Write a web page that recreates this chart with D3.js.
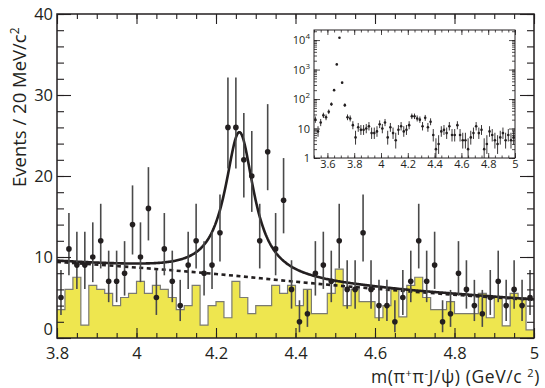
<!DOCTYPE html>
<html><head><meta charset="utf-8">
<script src="https://cdn.jsdelivr.net/npm/d3@7/dist/d3.min.js"></script>
<style>
body{margin:0;background:#fff}
svg{display:block}
text, tspan{font-family:'Open Sans','Noto Sans',sans-serif;fill:#231f20}
</style></head><body>
<svg id="chart" width="545" height="388"></svg>
<script>
// ---------------- data ----------------
const massRange = [3.8, 5.0];          // GeV/c^2
const binWidth = 0.02;                 // 20 MeV bins
const counts = [5,11,9,9,10,12,7,7,8,14,10,16,5,11,7,4,9,12,8,9,
                13,26,26,22,20,12,23,11,17,6,2,3,8,9,7,12,6,6,13,6,
                4,4,2,5,7,12,7,9,2,3,8,6,4,3,5,7,4,6,4,5];
const sideband = [3.5,6,7.5,1.6,6.5,6,5.5,4,5,5.5,7,5.5,6.5,6,5,3.5,4,6.5,1.6,4,
                  4.5,2.5,7,5,3,4,4,6.5,5.5,6.5,4,6,3,3,5.5,8.5,4,6,4.5,4.5,
                  2.5,4,6,2.6,6.5,7.5,5,3.5,3.5,4.5,3,3,3,5.5,2.5,5,1.5,5.5,5,1.0];
// background (dashed) curve read at knots
const bgMass = [3.8, 4.0, 4.2, 4.4, 4.5, 4.7, 5.0];
const bgVal  = [9.4, 8.7, 7.9, 6.95, 6.5, 5.7, 4.7];
// single-resonance fit: mass, width (GeV), peak amplitude above background
const fitMass = 4.259, fitWidth = 0.088, fitAmp = 17.8;
// inset: broader range 3.5-5.0, bins below 3.8 (rest = counts)
const insetRange = [3.5, 5.0];
const insetLow = [20, 8, 16, 28, 24, 37, 67, 200, 1500, 12000, 360, 62, 24, 22, 13];
const xTicks = [3.8, 4.0, 4.2, 4.4, 4.6, 4.8, 5.0];
const yTicks = [0, 10, 20, 30, 40];
const insetXTicks = [3.6, 3.8, 4.0, 4.2, 4.4, 4.6, 4.8, 5.0];
const insetYTicks = [1, 10, 100, 1000, 10000];

// ---------------- helpers ----------------
const INK = '#231f20';
const FONT = "'Open Sans','Noto Sans',sans-serif";
const errUp = n => n + 1 + Math.sqrt(n + 0.75);
const errLo = n => n <= 0 ? 0 : n * Math.pow(1 - 1/(9*n) - 1/(3*Math.sqrt(n)), 3);
const fmt = d => (Math.abs(d - Math.round(d)) < 1e-9) ? String(Math.round(d)) : d.toFixed(1);

const svg = d3.select('#chart');
const L = 57, R = 534, T = 14, B = 338;
const x = d3.scaleLinear().domain(massRange).range([L, R]);
const y = d3.scaleLinear().domain([0, 40]).range([B, T]);

const nb = counts.length;
const binLo = d3.range(nb).map(i => massRange[0] + i*binWidth);
const bins = binLo.map((lo, i) => ({lo, hi: lo + binWidth, c: lo + binWidth/2, n: counts[i], s: sideband[i]}));

// ---- sideband histogram (filled steps)
const stepPts = bins.map(b => [b.lo, b.s]).concat([[massRange[1], sideband[nb-1]]]);
svg.append('path')
  .attr('d', d3.area().x(d => x(d[0])).y0(y(0)).y1(d => y(d[1])).curve(d3.curveStepAfter)(stepPts))
  .attr('fill', '#eee64f');
svg.append('path')
  .attr('d', d3.line().x(d => x(d[0])).y(d => y(d[1])).curve(d3.curveStepAfter)(stepPts))
  .attr('fill', 'none').attr('stroke', '#7a7a72').attr('stroke-width', 1.2);

// ---- curves
const bg = d3.scaleLinear().domain(bgMass).range(bgVal);
const fine = d3.range(0, 481).map(i => massRange[0] + i*(massRange[1]-massRange[0])/480);
const g2 = (fitWidth/2)*(fitWidth/2);
const fitFn = m => bg(m) + fitAmp * g2 / ((m - fitMass)*(m - fitMass) + g2);
svg.append('path')
  .attr('d', d3.line().x(d => x(d[0])).y(d => y(d[1])).curve(d3.curveMonotoneX)(bgMass.map((m,i) => [m, bgVal[i]])))
  .attr('fill', 'none').attr('stroke', INK).attr('stroke-width', 2.6).attr('stroke-dasharray', '4,3.5');
svg.append('path')
  .attr('d', d3.line().x(d => x(d)).y(d => y(fitFn(d)))(fine))
  .attr('fill', 'none').attr('stroke', INK).attr('stroke-width', 2.6);

// ---- data points
const pts = svg.append('g');
pts.selectAll('line').data(bins).join('line')
  .attr('x1', d => x(d.c)).attr('x2', d => x(d.c))
  .attr('y1', d => y(Math.min(40, errUp(d.n)))).attr('y2', d => y(errLo(d.n)))
  .attr('stroke', '#4a4a4a').attr('stroke-width', 1.6);
pts.selectAll('circle').data(bins).join('circle')
  .attr('cx', d => x(d.c)).attr('cy', d => y(d.n)).attr('r', 2.8).attr('fill', INK);

// ---- axes (ROOT style: ticks inside on all four sides)
function axisG(axis, tx, ty) {
  const g = svg.append('g').attr('transform', `translate(${tx},${ty})`).call(axis);
  g.select('.domain').remove();
  g.selectAll('line').attr('stroke', INK).attr('stroke-width', 1.1);
  g.selectAll('text').style('font-family', FONT).style('fill', INK);
  return g;
}
const xMinor = d3.range(0, 25).map(i => massRange[0] + i*0.05);
const yMinor = d3.range(0, 21).map(i => i*2);
axisG(d3.axisBottom(x).tickValues(xMinor).tickSize(-5).tickFormat(''), 0, B);
axisG(d3.axisTop(x).tickValues(xMinor).tickSize(-5).tickFormat(''), 0, T);
axisG(d3.axisTop(x).tickValues(xTicks).tickSize(-10).tickFormat(''), 0, T);
const xb = axisG(d3.axisBottom(x).tickValues(xTicks).tickSize(-10).tickPadding(9).tickFormat(fmt), 0, B);
xb.selectAll('text').attr('font-size', 16.5);
axisG(d3.axisLeft(y).tickValues(yMinor).tickSize(-7).tickFormat(''), L, 0);
axisG(d3.axisRight(y).tickValues(yMinor).tickSize(-7).tickFormat(''), R, 0);
axisG(d3.axisRight(y).tickValues(yTicks).tickSize(-14).tickFormat(''), R, 0);
const yl = axisG(d3.axisLeft(y).tickValues(yTicks).tickSize(-14).tickPadding(4).tickFormat(d3.format('d')), L, 0);
yl.selectAll('text').attr('font-size', 16.5);
yl.selectAll('.tick').filter(d => d === 0).select('text').attr('y', -9);
svg.append('rect').attr('x', L).attr('y', T).attr('width', R-L).attr('height', B-T)
  .attr('fill', 'none').attr('stroke', INK).attr('stroke-width', 1.5);

// titles
const xt = svg.append('text').attr('x', 540).attr('y', 383).attr('text-anchor', 'end')
  .attr('font-size', 17.5).attr('letter-spacing', 0.6);
xt.append('tspan').text('m(π');
xt.append('tspan').attr('dy', -6).attr('font-size', 11).text('+');
xt.append('tspan').attr('dy', 6).text('π');
xt.append('tspan').attr('dy', -6).attr('font-size', 11).text('-');
xt.append('tspan').attr('dy', 6).text('J/ψ) (GeV/c ');
xt.append('tspan').attr('dy', -6).attr('font-size', 11).text('2');
xt.append('tspan').attr('dy', 6).text(')');
const yt = svg.append('text').attr('transform', 'translate(26,187) rotate(-90)').attr('text-anchor', 'start').attr('font-size', 18.5);
yt.append('tspan').text('Events / 20 MeV/c');
yt.append('tspan').attr('dy', -7).attr('font-size', 12).text('2');

// ---------------- inset ----------------
const iL = 314, iR = 515, iT = 30, iB = 158;
const xi = d3.scaleLinear().domain(insetRange).range([iL, iR]);
const yi = d3.scaleLog().domain([1, 22000]).range([iB, iT]);
svg.append('rect').attr('x', iL).attr('y', iT).attr('width', iR-iL).attr('height', iB-iT).attr('fill', '#fff');
const insetCounts = insetLow.concat(counts);
const ibins = insetCounts.map((n, i) => ({c: insetRange[0] + (i+0.5)*binWidth, n}));
const ig = svg.append('g');
ig.selectAll('line').data(ibins).join('line')
  .attr('x1', d => xi(d.c)).attr('x2', d => xi(d.c))
  .attr('y1', d => yi(errUp(d.n))).attr('y2', d => yi(Math.max(1, errLo(d.n))))
  .attr('stroke', INK).attr('stroke-width', 0.9);
ig.selectAll('circle').data(ibins).join('circle')
  .attr('cx', d => xi(d.c)).attr('cy', d => yi(d.n)).attr('r', 1.3).attr('fill', INK);

const ixMinor = d3.range(0, 31).map(i => insetRange[0] + i*0.05);
const iyMinor = [];
for (let dec = 1; dec <= 10000; dec *= 10) for (let k = 1; k <= 9; k++) if (dec*k <= 22000) iyMinor.push(dec*k);
function iax(axis, tx, ty) {
  const g = svg.append('g').attr('transform', `translate(${tx},${ty})`).call(axis);
  g.select('.domain').remove();
  g.selectAll('line').attr('stroke', INK).attr('stroke-width', 0.8);
  g.selectAll('text').style('font-family', FONT).style('fill', INK).attr('font-size', 11);
  return g;
}
iax(d3.axisBottom(xi).tickValues(ixMinor).tickSize(-2.5).tickFormat(''), 0, iB);
iax(d3.axisTop(xi).tickValues(ixMinor).tickSize(-2.5).tickFormat(''), 0, iT);
iax(d3.axisTop(xi).tickValues(insetXTicks).tickSize(-5).tickFormat(''), 0, iT);
iax(d3.axisBottom(xi).tickValues(insetXTicks).tickSize(-5).tickPadding(2).tickFormat(fmt), 0, iB);
iax(d3.axisLeft(yi).tickValues(iyMinor).tickSize(-3).tickFormat(''), iL, 0);
iax(d3.axisRight(yi).tickValues(iyMinor).tickSize(-3).tickFormat(''), iR, 0);
iax(d3.axisRight(yi).tickValues(insetYTicks).tickSize(-6).tickFormat(''), iR, 0);
const iyl = iax(d3.axisLeft(yi).tickValues(insetYTicks).tickSize(-6).tickPadding(4).tickFormat(''), iL, 0);
iyl.selectAll('.tick').each(function(d) {
  const t = d3.select(this).select('text').text(null);
  const e = Math.round(Math.log10(d));
  if (e === 0) t.text('1');
  else if (e === 1) t.text('10');
  else {
    t.append('tspan').style('fill', INK).text('10');
    t.append('tspan').style('fill', INK).attr('dy', -5).attr('font-size', 8).text(e);
  }
});
svg.append('rect').attr('x', iL).attr('y', iT).attr('width', iR-iL).attr('height', iB-iT)
  .attr('fill', 'none').attr('stroke', INK).attr('stroke-width', 1);
</script></body></html>
